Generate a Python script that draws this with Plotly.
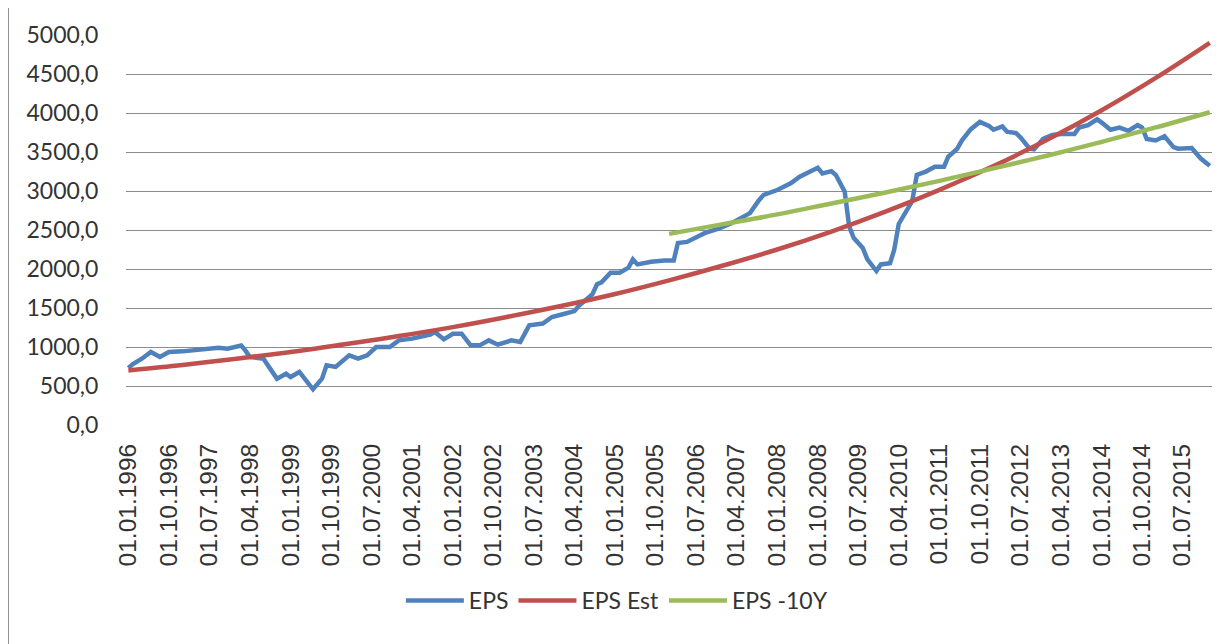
import plotly.graph_objects as go

# EPS (blue) readings
eps_dates = ["1996-01","1996-02","1996-04","1996-06","1996-08","1996-10","1997-01","1997-05","1997-09","1997-11",
             "1998-02","1998-03","1998-04","1998-07","1998-10","1998-12","1999-01","1999-03","1999-06","1999-08",
             "1999-09","1999-11","2000-02","2000-04","2000-06","2000-08","2000-11","2001-01","2001-04","2001-08",
             "2001-09","2001-11","2002-01","2002-03","2002-05","2002-07","2002-09","2002-11","2003-02","2003-04",
             "2003-06","2003-09","2003-11","2004-02","2004-04","2004-05","2004-08","2004-09","2004-10","2004-12",
             "2005-02","2005-04","2005-05","2005-06","2005-09","2005-12","2006-02","2006-03","2006-05","2006-09",
             "2006-12","2007-03","2007-06","2007-07","2007-09","2007-10","2008-01","2008-04","2008-06","2008-08",
             "2008-10","2008-11","2009-01","2009-02","2009-04","2009-05","2009-06","2009-08","2009-09","2009-11",
             "2009-12","2010-02","2010-03","2010-04","2010-06","2010-07","2010-08","2010-10","2010-12","2011-02",
             "2011-03","2011-05","2011-06","2011-08","2011-10","2011-12","2012-01","2012-03","2012-04","2012-06",
             "2012-07","2012-09","2012-10","2012-12","2013-02","2013-04","2013-07","2013-08","2013-10","2013-12",
             "2014-01","2014-03","2014-05","2014-07","2014-09","2014-10","2014-11","2015-01","2015-03","2015-05",
             "2015-06","2015-09","2015-11","2016-01"]
eps_values = [730, 780, 850, 936, 872, 936, 944, 966, 990, 978,
              1020, 957, 872, 850, 594, 658, 615, 680, 458, 594,
              765, 744, 893, 850, 893, 1000, 1000, 1085, 1107, 1158,
              1192, 1098, 1170, 1170, 1021, 1021, 1085, 1030, 1085, 1064,
              1277, 1300, 1384, 1430, 1460, 1529, 1677, 1805, 1830, 1953,
              1953, 2017, 2123, 2059, 2093, 2110, 2110, 2334, 2347, 2462,
              2517, 2589, 2686, 2716, 2886, 2949, 3013, 3098, 3182, 3237,
              3297, 3225, 3254, 3203, 2992, 2546, 2398, 2271, 2123, 1974,
              2059, 2075, 2243, 2578, 2767, 2871, 3207, 3249, 3311, 3311,
              3437, 3542, 3647, 3793, 3886, 3835, 3785, 3827, 3760, 3743,
              3689, 3542, 3534, 3668, 3718, 3730, 3730, 3814, 3844, 3919,
              3877, 3785, 3814, 3772, 3844, 3814, 3668, 3647, 3701, 3563,
              3542, 3550, 3416, 3324]

# EPS Est (red) readings, yearly
est_dates = ["1996-01","1997-01","1998-01","1999-01","2000-01","2001-01","2002-01","2003-01","2004-01","2005-01",
             "2006-01","2007-01","2008-01","2009-01","2010-01","2011-01","2012-01","2013-01","2014-01","2015-01","2016-01"]
est_values = [700, 770, 850, 935, 1035, 1140, 1255, 1385, 1525, 1680,
              1855, 2045, 2250, 2480, 2735, 3015, 3320, 3660, 4035, 4450, 4900]

# EPS -10Y (green) readings, yearly
y10_dates = ["2006-01","2007-01","2008-01","2009-01","2010-01","2011-01","2012-01","2013-01","2014-01","2015-01","2016-01"]
y10_values = [2450, 2575, 2700, 2840, 2980, 3130, 3290, 3455, 3630, 3815, 4010]

series_names = ["EPS", "EPS Est", "EPS -10Y"]
series_colors = ["#4F81BD", "#C0504D", "#9BBB59"]

fig = go.Figure()
fig.add_trace(go.Scatter(x=eps_dates, y=eps_values, mode="lines", name=series_names[0],
                         line=dict(color=series_colors[0], width=4.5)))
fig.add_trace(go.Scatter(x=est_dates, y=est_values, mode="lines", name=series_names[1],
                         line=dict(color=series_colors[1], width=4.5, shape="spline")))
fig.add_trace(go.Scatter(x=y10_dates, y=y10_values, mode="lines", name=series_names[2],
                         line=dict(color=series_colors[2], width=4.5, shape="spline")))

fig.update_layout(
    width=1230, height=644,
    margin=dict(l=118, r=26, t=20, b=227),
    paper_bgcolor="white", plot_bgcolor="white",
    separators=",.",
    font=dict(family="Lato", color="#333333"),
    showlegend=True,
    legend=dict(orientation="h", x=0.452, xanchor="center", y=-0.45, yanchor="middle",
                itemwidth=58,
                font=dict(family="Lato", size=23, color="#333333"), bgcolor="rgba(0,0,0,0)"),
    xaxis=dict(type="date", range=["1995-12-16", "2016-01-16"],
               tick0="1996-01-01", dtick="M9", tickformat="%d.%m.%Y", tickangle=-90,
               showgrid=False, showline=False, zeroline=False,
               ticks="outside", ticklen=8, tickcolor="rgba(0,0,0,0)",
               tickfont=dict(family="Liberation Sans", size=24.5, color="#333333")),
    yaxis=dict(range=[0, 5000], dtick=500, tickformat=".1f",
               showgrid=True, gridcolor="#8c8c8c", gridwidth=1.3, zeroline=False, showline=False,
               ticks="outside", ticklen=22, tickcolor="rgba(0,0,0,0)",
               tickfont=dict(family="Lato", size=23, color="#333333")),
    shapes=[dict(type="line", xref="paper", yref="paper", x0=-0.1087, x1=-0.1087, y0=-0.58, y1=1.1,
                 line=dict(color="#8c8c8c", width=2))],
)

fig.write_html("out.html")
